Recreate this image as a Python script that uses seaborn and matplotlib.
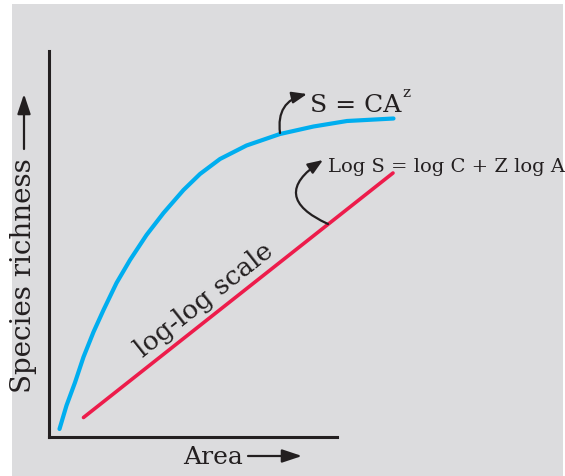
import matplotlib
matplotlib.use("Agg")
import matplotlib.pyplot as plt
import seaborn as sns
from matplotlib.patches import Rectangle

# species-area curve (arbitrary area units)
area_curve = [0.21, 0.35, 0.52, 0.69, 0.89, 1.09, 1.35, 1.62, 1.95, 2.29,
              2.69, 3.02, 3.42, 3.95, 4.62, 5.29, 5.96, 6.89]
richness_curve = [0.16, 0.63, 1.09, 1.60, 2.10, 2.54, 3.08, 3.54, 4.04, 4.48,
                  4.94, 5.26, 5.56, 5.83, 6.06, 6.21, 6.32, 6.37]

# straight line on the log-log scale
area_log = [0.69, 6.88]
richness_log = [0.39, 5.28]

blue = "#00aeef"
red = "#ed1c4b"
ink = "#231f20"
bg = "#dcdcde"

sns.set_style("white")
plt.rcParams["font.family"] = ["DejaVu Serif"]

fig = plt.figure(figsize=(5.65, 4.77), dpi=100)
fig.patch.set_facecolor("white")
fig.patches.append(Rectangle((12 / 565, 0), 551 / 565, 472 / 477,
                             transform=fig.transFigure, facecolor=bg,
                             edgecolor="none", zorder=-10))

ax = fig.add_axes([49 / 565, 39 / 477, 500 / 565, 400 / 477])
ax.set_facecolor("none")

sns.lineplot(x=area_curve, y=richness_curve, sort=False, color=blue, lw=3,
             solid_joinstyle="round", ax=ax)
sns.lineplot(x=area_log, y=richness_log, sort=False, color=red, lw=2.6, ax=ax)

ax.set_xlim(0, 10)
ax.set_ylim(0, 8)
ax.set_xticks([])
ax.set_yticks([])
for side in ["top", "right"]:
    ax.spines[side].set_visible(False)
for side in ["left", "bottom"]:
    ax.spines[side].set_color(ink)
    ax.spines[side].set_linewidth(2.2)
ax.spines["left"].set_bounds(0, 7.72)
ax.spines["bottom"].set_bounds(0, 5.76)

# equations and curved pointers
arrow_kw = dict(arrowstyle="-|>,head_length=0.9,head_width=0.35", color=ink, lw=1.6,
                mutation_scale=10, shrinkA=0, shrinkB=0)
ax.annotate("", xy=(5.16, 6.86), xytext=(4.62, 6.08),
            arrowprops=dict(connectionstyle="arc3,rad=-0.45", **arrow_kw))
ax.annotate("", xy=(5.48, 5.54), xytext=(5.58, 4.26),
            arrowprops=dict(connectionstyle="arc3,rad=-0.9", **arrow_kw))

eq1 = ax.text(5.22, 6.52, "S = CA", fontsize=18, color=ink,
              ha="left", va="baseline")
ax.annotate("z", xy=(1, 0.72), xycoords=eq1, xytext=(1, 0), textcoords="offset points",
            fontsize=11, color=ink, ha="left", va="bottom")
ax.text(5.58, 5.32, "Log S = log C + Z log A", fontsize=14, color=ink,
        ha="left", va="baseline")
ax.text(3.1, 2.76, "log-log scale", fontsize=19, color=ink, rotation=38.3,
        rotation_mode="anchor", ha="center", va="center")

# axis titles with arrows
fig.text(24 / 565, (477 - 276) / 477, "Species richness", fontsize=20, color=ink,
         rotation=90, ha="center", va="center")
fig.text(213 / 565, (477 - 458) / 477, "Area", fontsize=18, color=ink,
         ha="center", va="center")
label_arrow = dict(arrowstyle="-|>,head_length=1.2,head_width=0.4", color=ink, lw=1.6,
                   mutation_scale=10, shrinkA=0, shrinkB=0)
ax.annotate("", xy=(24, 477 - 95), xytext=(24, 477 - 150),
            xycoords="figure pixels", textcoords="figure pixels", arrowprops=label_arrow)
ax.annotate("", xy=(302, 20), xytext=(248, 20),
            xycoords="figure pixels", textcoords="figure pixels", arrowprops=label_arrow)

fig.savefig("out.png", dpi=100)
